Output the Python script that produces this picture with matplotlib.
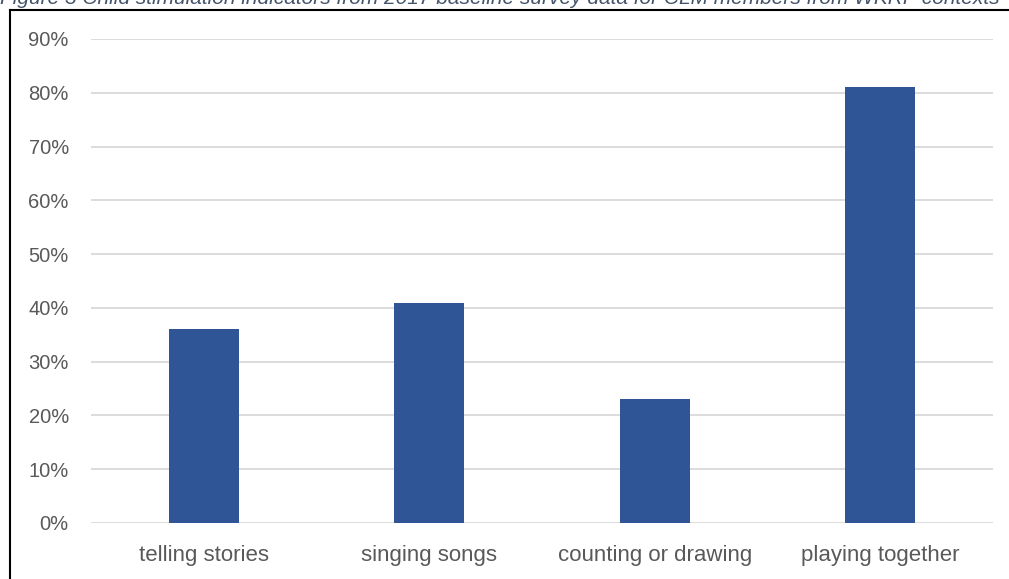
import matplotlib
matplotlib.use("Agg")
import matplotlib.pyplot as plt
from matplotlib.lines import Line2D
from matplotlib.ticker import FuncFormatter

categories = ["telling stories", "singing songs", "counting or drawing", "playing together"]
shares = [0.36, 0.41, 0.23, 0.81]
y_ticks = [0.0, 0.1, 0.2, 0.3, 0.4, 0.5, 0.6, 0.7, 0.8, 0.9]
caption = ("Figure 3 Child stimulation indicators from 2017 baseline survey data "
           "for CLM members from WKRP contexts")

plt.rcParams["font.family"] = ["Liberation Sans", "DejaVu Sans"]

W, H = 1009, 579
fig = plt.figure(figsize=(W / 100, H / 100), dpi=100)
ax = fig.add_axes([91 / W, 1 - 523 / H, (993 - 91) / W, (523 - 39) / H])

x = range(len(categories))
ax.bar(x, shares, width=0.31, color="#2F5597", zorder=3)

ax.set_xlim(-0.5, len(categories) - 0.5)
ax.set_ylim(0, 0.9)
ax.set_yticks(y_ticks)
ax.yaxis.set_major_formatter(FuncFormatter(lambda v, _: f"{v * 100:.0f}%"))
ax.set_xticks(list(x))
ax.set_xticklabels(categories)
ax.tick_params(axis="both", length=0, labelcolor="#595959")
ax.tick_params(axis="y", labelsize=14.5, pad=16)
ax.tick_params(axis="x", labelsize=16, pad=16)
ax.grid(axis="y", color="#D9D9D9", linewidth=1.3, zorder=0)
for s in ax.spines.values():
    s.set_visible(False)

# frame of the embedded chart and clipped caption above it
fig.add_artist(Line2D([9.5 / W, 1], [1 - 9.5 / H] * 2, color="black", lw=1.5))
fig.add_artist(Line2D([9.5 / W] * 2, [0, 1 - 9.5 / H], color="black", lw=1.5))
fig.text(0.0, 1 - 4 / H, caption, fontsize=15, style="italic", color="#44546A",
         va="baseline", ha="left")

fig.savefig("out.png", dpi=100)
plt.close(fig)
